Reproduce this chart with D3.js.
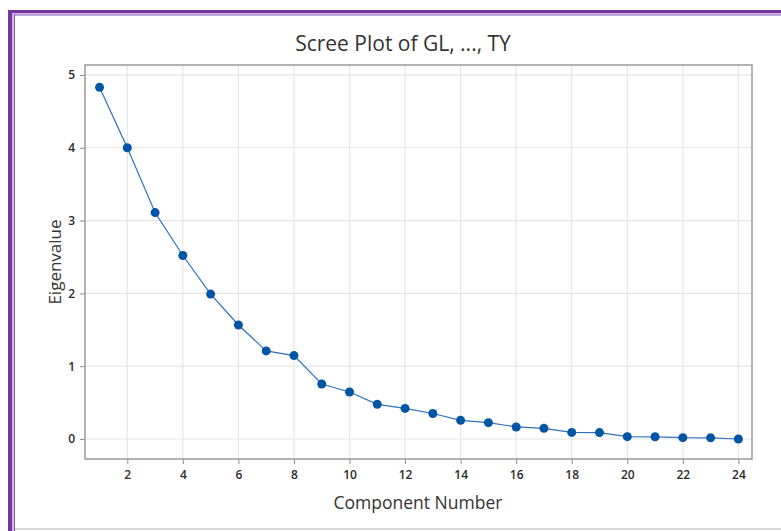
<!DOCTYPE html>
<html><head><meta charset="utf-8">
<script src="https://cdn.jsdelivr.net/npm/d3@7"></script>
<style>html,body{margin:0;padding:0;background:#fff;}svg{display:block;}</style>
</head><body>
<script>
const components = d3.range(1, 25);
const eigenvalues = [4.83, 4.00, 3.11, 2.52, 1.99, 1.566, 1.21, 1.145, 0.755, 0.645, 0.476, 0.42,
  0.35, 0.256, 0.224, 0.165, 0.146, 0.09, 0.088, 0.032, 0.03, 0.018, 0.016, 0.0];
const xTicks = [2, 4, 6, 8, 10, 12, 14, 16, 18, 20, 22, 24];
const yTicks = [0, 1, 2, 3, 4, 5];
const titleText = "Scree Plot of GL, ..., TY";
const xLabel = "Component Number";
const yLabel = "Eigenvalue";

const W = 781, H = 531;
const svg = d3.select("body").append("svg").attr("width", W).attr("height", H);
const font = "'Open Sans', 'Noto Sans', sans-serif";

// frame
svg.append("rect").attr("x", 8).attr("y", 10).attr("width", 4).attr("height", H - 10).attr("fill", "#7434a4");
svg.append("rect").attr("x", 8).attr("y", 10).attr("width", W - 8).attr("height", 3).attr("fill", "#7434a4");
svg.append("rect").attr("x", 12).attr("y", 13).attr("width", 2).attr("height", H - 13).attr("fill", "#cdb8e2");
svg.append("rect").attr("x", 12).attr("y", 13).attr("width", W - 12).attr("height", 1.5).attr("fill", "#cdb8e2");
svg.append("rect").attr("x", 14).attr("y", 14.5).attr("width", 1).attr("height", H - 14.5).attr("fill", "#8a55bd");
svg.append("rect").attr("x", 14).attr("y", 14.5).attr("width", W - 14).attr("height", 1).attr("fill", "#8a55bd");
svg.append("rect").attr("x", 15).attr("y", 528).attr("width", W - 15).attr("height", 2).attr("fill", "#d8d8dc");

const L = 85, R = 752, T = 65, B = 459;
const x = d3.scaleLinear().domain([0.477, 24.49]).range([L, R]);
const y = d3.scaleLinear().domain([-0.275, 5.137]).range([B, T]);

// grid
const g = svg.append("g");
g.selectAll(".vg").data(xTicks).enter().append("line")
  .attr("x1", d => x(d)).attr("x2", d => x(d)).attr("y1", T).attr("y2", B)
  .attr("stroke", "#e6e6e6").attr("stroke-width", 1.2);
g.selectAll(".hg").data(yTicks).enter().append("line")
  .attr("x1", L).attr("x2", R).attr("y1", d => y(d)).attr("y2", d => y(d))
  .attr("stroke", "#e6e6e6").attr("stroke-width", 1.2);

// axes
const xAxis = d3.axisBottom(x).tickValues(xTicks).tickSize(5).tickPadding(6).tickSizeOuter(0).tickFormat(d3.format("d"));
const yAxis = d3.axisLeft(y).tickValues(yTicks).tickSize(5).tickPadding(5).tickSizeOuter(0).tickFormat(d3.format("d"));
const gx = svg.append("g").attr("transform", `translate(0,${B})`).call(xAxis);
const gy = svg.append("g").attr("transform", `translate(${L},0)`).call(yAxis);
[gx, gy].forEach(a => {
  a.select(".domain").remove();
  a.selectAll(".tick line").attr("stroke", "#8c8c8c");
  a.selectAll(".tick text").attr("fill", "#2b2b2b").style("font-family", font)
    .style("font-size", "12px").style("font-weight", "600");
});

// plot frame
svg.append("rect").attr("x", L).attr("y", T).attr("width", R - L).attr("height", B - T)
  .attr("fill", "none").attr("stroke", "#9a9a9a").attr("stroke-width", 1.5);

// line and points
const data = components.map((c, i) => ({c, v: eigenvalues[i]}));
svg.append("path").datum(data)
  .attr("d", d3.line().x(d => x(d.c)).y(d => y(d.v)))
  .attr("fill", "none").attr("stroke", "#2f72bd").attr("stroke-width", 1.2);
svg.selectAll(".pt").data(data).enter().append("circle")
  .attr("cx", d => x(d.c)).attr("cy", d => y(d.v)).attr("r", 4.5).attr("fill", "#0055a5");

// texts
svg.append("text").attr("x", 403).attr("y", 51).attr("text-anchor", "middle")
  .style("font-family", font).style("font-size", "21px").attr("fill", "#333")
  .text(titleText);
svg.append("text").attr("x", 418).attr("y", 509).attr("text-anchor", "middle")
  .style("font-family", font).style("font-size", "17.5px").attr("fill", "#333")
  .text(xLabel);
svg.append("text").attr("transform", "translate(61,262) rotate(-90)").attr("text-anchor", "middle")
  .style("font-family", font).style("font-size", "17px").attr("fill", "#333")
  .text(yLabel);
</script>
</body></html>
